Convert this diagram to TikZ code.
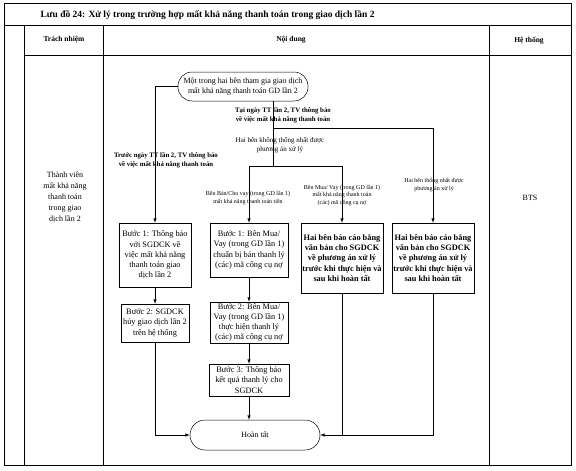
\documentclass[tikz,border=0pt]{standalone}
\usepackage{fontspec}
\setmainfont{Liberation Serif}
\usetikzlibrary{calc,positioning}

\begin{document}
\begin{tikzpicture}[
  x=1pt, y=-1pt, >=latex, line width=0.5pt,
  grid/.style={draw, line width=0.7pt},
  head/.style={font=\fontsize{7.5}{9}\selectfont\bfseries},
  stepbox/.style={draw, align=center, inner sep=1.5pt,
                  font=\fontsize{8.3}{10.2}\selectfont},
  reportbox/.style={stepbox, font=\fontsize{8.3}{10.4}\selectfont\bfseries},
  term/.style={draw, rounded corners=14pt, align=center,
               font=\fontsize{8}{10}\selectfont},
  note/.style={align=center, inner sep=0pt, font=\fontsize{6}{7.5}\selectfont},
  boldnote/.style={note, font=\fontsize{6.8}{8.6}\selectfont\bfseries},
]
\useasboundingbox (0,0) rectangle (576,471);

% frame of the table
\draw[grid] (4,3) rectangle (571,465);
\draw[grid] (4,25) -- (571,25);
\draw[grid] (24,55) -- (571,55);
\draw[grid] (24,25) -- (24,465);
\draw[grid] (103,25) -- (103,465);
\draw[grid] (489,25) -- (489,465);

\node[anchor=west, font=\fontsize{9.5}{11}\selectfont\bfseries] (title) at (37,15)
  {Lưu đồ 24: Xử lý trong trường hợp mất khả năng thanh toán trong giao dịch lần 2};
\node[head] (hResp) at (64,40) {Trách nhiệm};
\node[head] (hCont) at (291,40) {Nội dung};
\node[head] (hSys) at (529,41) {Hệ thống};
\node[align=center, font=\fontsize{8}{11}\selectfont] (actor) at (65,197)
  {Thành viên\\mất khả năng\\thanh toán\\trong giao\\dịch lần 2};
\node[font=\fontsize{8}{10}\selectfont] (sys) at (530,198) {BTS};

% flow
\node[term, minimum width=130, minimum height=29] (start) at (243,86.5)
  {Một trong hai bên tham gia giao dịch\\mất khả năng thanh toán GD lần 2};
\node[stepbox, minimum width=72, minimum height=64] (stepOneL) at (155,255)
  {Bước 1: Thông báo\\với SGDCK về\\việc mất khả năng\\thanh toán giao\\dịch lần 2};
\node[stepbox, minimum width=68, minimum height=38] (stepTwoL) at (155,323)
  {Bước 2: SGDCK\\hủy giao dịch lần 2\\trên hệ thống};
\node[stepbox, minimum width=78, minimum height=54] (stepOneM) at (249,250)
  {Bước 1: Bên Mua/\\Vay (trong GD lần 1)\\chuẩn bị bán thanh lý\\(các) mã công cụ nợ};
\node[stepbox, minimum width=78, minimum height=41] (stepTwoM) at (249,322.5)
  {Bước 2: Bên Mua/\\Vay (trong GD lần 1)\\thực hiện thanh lý\\(các) mã công cụ nợ};
\node[stepbox, minimum width=80, minimum height=32] (stepThreeM) at (249,380)
  {Bước 3: Thông báo\\kết quả thanh lý cho\\SGDCK};
\node[reportbox, minimum width=80, minimum height=70] (reportA) at (342,258)
  {Hai bên báo cáo bằng\\văn bản cho SGDCK\\về phương án xử lý\\trước khi thực hiện và\\sau khi hoàn tất};
\node[reportbox, minimum width=81, minimum height=70] (reportB) at (433,258)
  {Hai bên báo cáo bằng\\văn bản cho SGDCK\\về phương án xử lý\\trước khi thực hiện và\\sau khi hoàn tất};
\node[term, minimum width=130, minimum height=30, rounded corners=15pt] (done) at (255,435)
  {Hoàn tất};

\coordinate (fork) at (273,128);
\coordinate (split) at (273,166);

\draw (start.south -| fork) -- (fork);
\draw[->] (fork) -| (reportB.north);
\draw (fork) -- (split);
\draw[->] (split) -| (stepOneM.north);
\draw[->] (split) -| (reportA.north);
\draw[->] (start.west) -| (stepOneL.north);
\draw[->] (stepOneL) -- (stepTwoL);
\draw[->] (stepTwoL.south) |- (done.west);
\draw[->] (stepOneM) -- (stepTwoM);
\draw[->] (stepTwoM) -- (stepThreeM);
\draw[->] (stepThreeM.south) -- (stepThreeM.south |- done.north);
\draw (reportA.south) -- (reportA.south |- done.east);
\draw[->] (reportB.south) |- (done.east);

% labels on the branches
\node[boldnote] (onDay) at (283,115)
  {Tại ngày TT lần 2, TV thông báo\\về việc mất khả năng thanh toán};
\node[boldnote] (beforeDay) at (166,160)
  {Trước ngày TT lần 2, TV thông báo\\về việc mất khả năng thanh toán};
\node[note, font=\fontsize{7}{8.5}\selectfont] (noAgree) at (280,145)
  {Hai bên không thống nhất được\\phương án xử lý};
\node[note] (agree) at (434,185)
  {Hai bên thống nhất được\\phương án xử lý};
\node[note] (sellerFail) at (248,198)
  {Bên Bán/Cho vay (trong GD lần 1)\\mất khả năng thanh toán tiền};
\node[note] (buyerFail) at (342,195)
  {Bên Mua/ Vay (trong GD lần 1)\\mất khả năng thanh toán\\(các) mã công cụ nợ};
\end{tikzpicture}
\end{document}
